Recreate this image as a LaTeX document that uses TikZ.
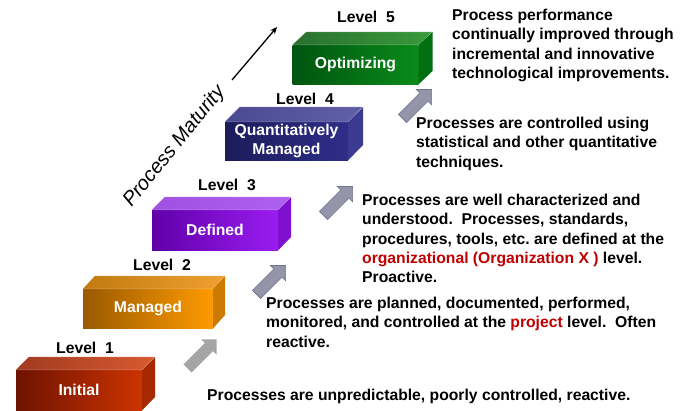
\documentclass[tikz,border=0pt]{standalone}
\usepackage{fontspec}
\setmainfont{Liberation Sans}
\usetikzlibrary{shapes.arrows,arrows.meta}
\frenchspacing

\definecolor{initA}{HTML}{6E1200}\definecolor{initB}{HTML}{CC3300}
\definecolor{initC}{HTML}{A03A20}\definecolor{initD}{HTML}{D85A30}\definecolor{initE}{HTML}{A82800}
\definecolor{manA}{HTML}{9A5A00}\definecolor{manB}{HTML}{FF9A00}
\definecolor{manC}{HTML}{C07A10}\definecolor{manD}{HTML}{F0A030}\definecolor{manE}{HTML}{CC7A00}
\definecolor{defA}{HTML}{6000A8}\definecolor{defB}{HTML}{9A1CF0}
\definecolor{defC}{HTML}{A050E0}\definecolor{defD}{HTML}{B060F0}\definecolor{defE}{HTML}{8010D0}
\definecolor{quaA}{HTML}{1C1C5A}\definecolor{quaB}{HTML}{2E2E8A}
\definecolor{quaC}{HTML}{4A4A90}\definecolor{quaD}{HTML}{6060A8}\definecolor{quaE}{HTML}{3A3A90}
\definecolor{optA}{HTML}{005510}\definecolor{optB}{HTML}{0A8A1A}
\definecolor{optC}{HTML}{2A7030}\definecolor{optD}{HTML}{3A9A3A}\definecolor{optE}{HTML}{007010}
\definecolor{lvred}{HTML}{C00000}
\definecolor{arrgray}{HTML}{A5A5A5}
\definecolor{arrslate}{HTML}{9595AA}\definecolor{arrslateline}{HTML}{707090}

\begin{document}
\begin{tikzpicture}[x=1pt,y=-1pt,font=\fontsize{15.7}{19.3}\selectfont\bfseries,
	front/.style={inner sep=0pt,text=white,align=center,minimum width=126pt,minimum height=40pt},
	face/.style={draw=white,draw opacity=0.3,line width=0.5pt},
	lvl/.style={inner sep=0pt},
	desc/.style={anchor=north west,inner sep=0pt,align=left},
	uparrow/.style={single arrow,rotate=45,minimum height=41pt,inner xsep=0pt,inner ysep=5.5pt,single arrow head extend=5pt}]
	\useasboundingbox (0,0) rectangle (685,410);

	%level 1
	\node[front,left color=initA,right color=initB] (b1) at (79,390) {Initial}; %front
	\shade[face,left color=initC,right color=initD] (b1.north west) -- ++(13,-13) -- ++(126,0) -- (b1.north east) -- cycle; %top
	\fill[initE] (b1.north east) -- ++(13,-13) -- ++(0,40) -- (b1.south east) -- cycle; %side
	\node[lvl] (lv1) at (85,348) {Level~~1};

	%level 2
	\node[front,minimum width=130pt,minimum height=39pt,left color=manA,right color=manB] (b2) at (148,308.5) {Managed}; %front
	\shade[face,left color=manC,right color=manD] (b2.north west) -- ++(12,-13) -- ++(130,0) -- (b2.north east) -- cycle; %top
	\fill[manE] (b2.north east) -- ++(12,-13) -- ++(0,39) -- (b2.south east) -- cycle; %side
	\node[lvl] (lv2) at (162,265) {Level~~2};

	%level 3
	\node[front,left color=defA,right color=defB] (b3) at (215,230) {Defined}; %front
	\shade[face,left color=defC,right color=defD] (b3.north west) -- ++(13,-13) -- ++(126,0) -- (b3.north east) -- cycle; %top
	\fill[defE] (b3.north east) -- ++(13,-13) -- ++(0,40) -- (b3.south east) -- cycle; %side
	\node[lvl] (lv3) at (227,185) {Level~~3};

	%level 4
	\node[front,minimum width=123pt,minimum height=38pt,left color=quaA,right color=quaB] (b4) at (286.5,141) {Quantitatively\\Managed}; %front
	\shade[face,left color=quaC,right color=quaD] (b4.north west) -- ++(15,-15) -- ++(123,0) -- (b4.north east) -- cycle; %top
	\fill[quaE] (b4.north east) -- ++(15,-15) -- ++(0,38) -- (b4.south east) -- cycle; %side
	\node[lvl] (lv4) at (305,99) {Level~~4};

	%level 5
	\node[front,minimum height=39pt,left color=optA,right color=optB] (b5) at (355.5,64.5) {Optimizing}; %front
	\shade[face,left color=optC,right color=optD] (b5.north west) -- ++(14,-13) -- ++(126,0) -- (b5.north east) -- cycle; %top
	\fill[optE] (b5.north east) -- ++(14,-13) -- ++(0,39) -- (b5.south east) -- cycle; %side
	\node[lvl] (lv5) at (366,17) {Level~~5};

	%step arrows
	\node[uparrow,fill=arrgray] (up12) at (200,356) {};
	\node[uparrow,fill=arrslate,draw=arrslateline,line width=0.6pt] (up23) at (269,282) {};
	\node[uparrow,fill=arrslate,draw=arrslateline,line width=0.6pt] (up34) at (336,203) {};
	\node[uparrow,fill=arrslate,draw=arrslateline,line width=0.6pt] (up45) at (415,106) {};

	%maturity axis
	\node[rotate=51,inner sep=0pt,font=\fontsize{20}{24}\selectfont\itshape] (pm) at (174.5,146.7) {Process Maturity};
	\coordinate (pmA) at (232,80);
	\coordinate (pmB) at (277,27);
	\draw[line width=1.3pt,-{Stealth[length=7pt,width=6pt]}] (pmA) -- (pmB);

	%descriptions
	\node[desc] (d5) at (452,9) {Process performance\\continually improved through\\incremental and innovative\\technological improvements.};
	\node[desc] (d4) at (416,117) {Processes are controlled using\\statistical and other quantitative\\techniques.};
	\node[desc] (d3) at (362,194) {Processes are well characterized and\\understood.\ \ Processes, standards,\\procedures, tools, etc. are defined at the\\\textcolor{lvred}{organizational (Organization X )} level.\\Proactive.};
	\node[desc] (d2) at (266,297) {Processes are planned, documented, performed,\\monitored, and controlled at the \textcolor{lvred}{project} level.\ \ Often\\reactive.};
	\node[desc] (d1) at (207,389) {Processes are unpredictable, poorly controlled, reactive.};
\end{tikzpicture}
\end{document}
